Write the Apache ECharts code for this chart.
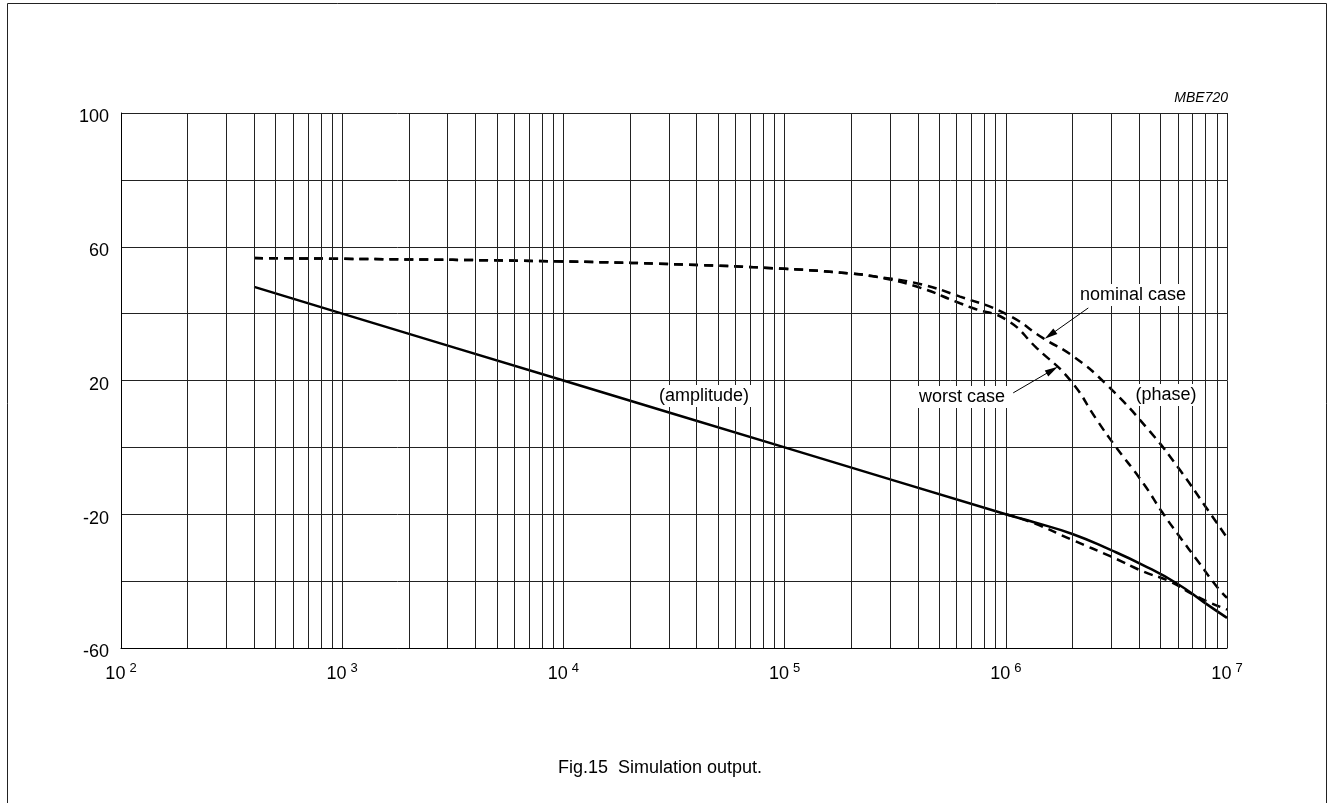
<!DOCTYPE html>
<html>
<head>
<meta charset="utf-8">
<script src="https://cdn.jsdelivr.net/npm/echarts@6/dist/echarts.min.js"></script>
<style>
html,body{margin:0;padding:0;background:#fff;}
#c{width:1329px;height:803px;}
</style>
</head>
<body>
<div id="c"></div>
<script>
// ---- data (frequency in Hz, level) ----
const ampNominalFreq = [400, 1e3, 1e4, 1e5, 1e6, 1.33e6, 2e6, 2.96e6, 4.17e6, 5.94e6, 7.82e6, 1e7];
const ampNominalVal  = [48, 40, 20, 0, -20, -22.3, -25.9, -30.6, -35.2, -40.7, -46.2, -51];

const ampWorstFreq = [1e6, 1.33e6, 2e6, 3e6, 4.17e6, 5.52e6, 7.3e6, 1e7];
const ampWorstVal  = [-20, -22.6, -27.7, -32.7, -37.1, -40.1, -44.6, -48.5];

const phaseNominalFreq = [400, 1e3, 1e4, 4.15e4, 1e5, 2e5, 2.6e5, 3.95e5, 6.21e5, 1.01e6, 1.48e6, 2.02e6, 2.86e6, 4.49e6, 6.13e6, 8.09e6, 1e7];
const phaseNominalVal  = [56.6, 56.4, 55.6, 54.5, 53.4, 52, 51, 49.1, 45.1, 39.8, 32.6, 27.2, 18.7, 4.7, -6.8, -18.2, -27];

const phaseWorstFreq = [400, 1e3, 1e4, 4.15e4, 1e5, 2e5, 2.6e5, 3.95e5, 6.21e5, 7.13e5, 1.01e6, 1.38e6, 1.95e6, 2.58e6, 3.06e6, 4.19e6, 5.07e6, 6.03e6, 7.42e6, 8.98e6, 1e7];
const phaseWorstVal  = [56.6, 56.4, 55.6, 54.5, 53.4, 52, 51, 48.1, 43.1, 41.6, 38.1, 29.7, 20.2, 8.2, 1.2, -10.8, -19.2, -26.2, -34.2, -41.6, -45];

const yTickLabels = [100, 60, 20, -20, -60];
const minorMultipliers = [2, 3, 4, 5, 6, 7, 8, 9];
const decades = [1e2, 1e3, 1e4, 1e5, 1e6];

// arrows: [fromFreq, fromVal, toFreq, toVal]
const arrowNominal = [2.36e6, 41.7, 1.585e6, 33.6];
const arrowWorst = [1.08e6, 16.3, 1.62e6, 23.1];

function pairs(f, v) { return f.map((x, i) => [x, v[i]]); }

const minorLines = [];
decades.forEach(d => minorMultipliers.forEach(m => minorLines.push({ xAxis: d * m })));

const FONT = '"Liberation Sans", Arial, sans-serif';
const lineW = 2.5;
const dash = [9, 6];
const SMOOTH = 0.5;

const chart = echarts.init(document.getElementById('c'), null, { renderer: 'canvas' });
chart.setOption({
  animation: false,
  backgroundColor: '#fff',
  grid: { left: 121, right: 102, top: 113, bottom: 155, containLabel: false },
  xAxis: {
    type: 'log', logBase: 10, min: 100, max: 1e7, splitNumber: 5,
    axisLine: { show: true, onZero: false, lineStyle: { color: '#000', width: 1 } },
    axisTick: { show: false },
    splitLine: { show: true, lineStyle: { color: '#222', width: 1 } },
    axisLabel: {
      margin: 14,
      formatter: function (v) { return '{b|10}{s|' + Math.round(Math.log10(v)) + '}'; },
      rich: {
        b: { fontFamily: FONT, fontSize: 18, color: '#000' },
        s: { fontFamily: FONT, fontSize: 13, color: '#000', padding: [0, 0, 12, 4] }
      }
    }
  },
  yAxis: {
    type: 'value', min: -60, max: 100, interval: 20,
    axisLine: { show: true, lineStyle: { color: '#000', width: 1 } },
    axisTick: { show: false },
    splitLine: { show: true, lineStyle: { color: '#222', width: 1 } },
    axisLabel: {
      margin: 12, color: '#000',
      formatter: function (v) { return yTickLabels.indexOf(v) >= 0 ? '{a|' + v + '}' : ''; },
      rich: { a: { fontFamily: FONT, fontSize: 18, color: '#000', padding: [9, 0, 0, 0] } }
    }
  },
  series: [
    {
      type: 'line', name: 'grid', data: [], silent: true,
      markLine: {
        silent: true, symbol: ['none', 'none'], label: { show: false },
        lineStyle: { color: '#222', width: 1, type: 'solid' },
        data: minorLines, animation: false
      }
    },
    {
      type: 'line', name: 'amplitude', data: pairs(ampNominalFreq, ampNominalVal),
      smooth: SMOOTH, showSymbol: false, lineStyle: { color: '#000', width: lineW }
    },
    {
      type: 'line', name: 'amplitude worst', data: pairs(ampWorstFreq, ampWorstVal),
      smooth: SMOOTH, showSymbol: false, lineStyle: { color: '#000', width: lineW, type: dash }
    },
    {
      type: 'line', name: 'phase nominal', data: pairs(phaseNominalFreq, phaseNominalVal),
      smooth: SMOOTH, showSymbol: false, lineStyle: { color: '#000', width: lineW, type: dash }
    },
    {
      type: 'line', name: 'phase worst', data: pairs(phaseWorstFreq, phaseWorstVal),
      smooth: SMOOTH, showSymbol: false, lineStyle: { color: '#000', width: lineW, type: dash },
      z: 3
    },
    {
      type: 'line', name: 'arrows', data: [], silent: true, z: 5,
      markLine: {
        silent: true, symbol: ['none', 'triangle'], symbolSize: [7, 13], label: { show: false },
        lineStyle: { color: '#000', width: 1, type: 'solid' },
        itemStyle: { color: '#000' },
        data: [
          [{ coord: [arrowNominal[0], arrowNominal[1]] }, { coord: [arrowNominal[2], arrowNominal[3]] }],
          [{ coord: [arrowWorst[0], arrowWorst[1]] }, { coord: [arrowWorst[2], arrowWorst[3]] }]
        ]
      }
    }
  ],
  graphic: [
    { type: 'rect', shape: { x: 7.5, y: 3.5, width: 1319, height: 810 }, style: { fill: 'none', stroke: '#222', lineWidth: 1 }, silent: true },
    { type: 'text', x: 1228, y: 98, style: { text: 'MBE720', font: 'italic 14px ' + FONT, fill: '#000', align: 'right', verticalAlign: 'middle' } },
    { type: 'text', x: 704, y: 396, z: 10, style: { text: '(amplitude)', font: '18px ' + FONT, fill: '#000', align: 'center', verticalAlign: 'middle', backgroundColor: '#fff', padding: [2, 3] } },
    { type: 'text', x: 1166, y: 395, z: 10, style: { text: '(phase)', font: '18px ' + FONT, fill: '#000', align: 'center', verticalAlign: 'middle', backgroundColor: '#fff', padding: [2, 3] } },
    { type: 'text', x: 1133, y: 295, z: 10, style: { text: 'nominal case', font: '18px ' + FONT, fill: '#000', align: 'center', verticalAlign: 'middle', backgroundColor: '#fff', padding: [2, 3] } },
    { type: 'text', x: 962, y: 397, z: 10, style: { text: 'worst case', font: '18px ' + FONT, fill: '#000', align: 'center', verticalAlign: 'middle', backgroundColor: '#fff', padding: [2, 3] } },
    { type: 'text', x: 660, y: 768, style: { text: 'Fig.15  Simulation output.', font: '18px ' + FONT, fill: '#000', align: 'center', verticalAlign: 'middle' } }
  ]
});
</script>
</body>
</html>
